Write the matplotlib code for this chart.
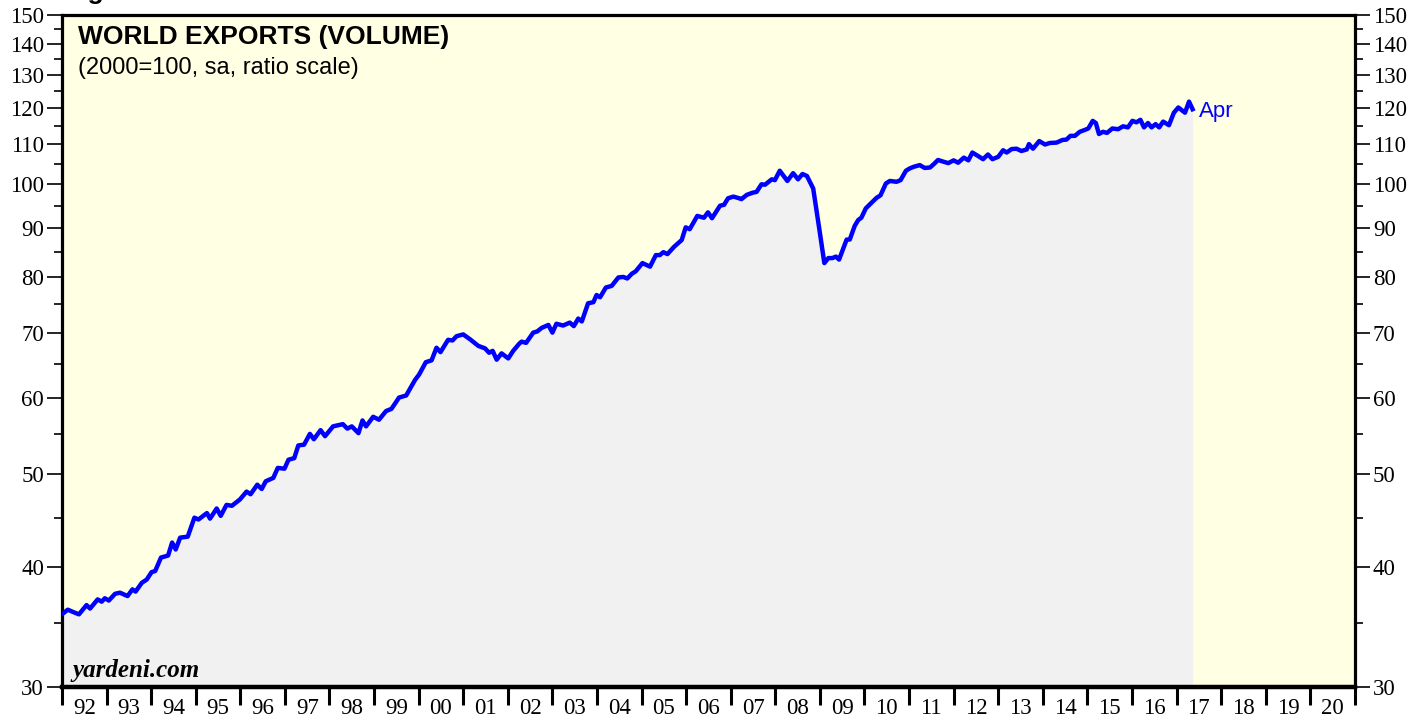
import matplotlib.pyplot as plt
import matplotlib.ticker as mticker
import numpy as np

# world exports volume, 2000=100 (decimal year, index)
years = [
    1992.03, 1992.13, 1992.25, 1992.38, 1992.55, 1992.63, 1992.80, 1992.89, 1992.96,
    1993.05, 1993.19, 1993.30, 1993.47, 1993.58, 1993.65, 1993.79, 1993.90,
    1994.01, 1994.09, 1994.22, 1994.38, 1994.47, 1994.55, 1994.65, 1994.82, 1994.97,
    1995.06, 1995.25, 1995.32, 1995.47, 1995.56, 1995.69, 1995.81, 1995.99,
    1996.14, 1996.23, 1996.38, 1996.48, 1996.57, 1996.74, 1996.84, 1996.99,
    1997.08, 1997.21, 1997.30, 1997.43, 1997.56, 1997.65, 1997.80, 1997.90,
    1998.08, 1998.30, 1998.40, 1998.50, 1998.65, 1998.74, 1998.82, 1998.98,
    1999.11, 1999.27, 1999.39, 1999.56, 1999.72, 1999.92,
    2000.01, 2000.16, 2000.29, 2000.40, 2000.49, 2000.66, 2000.76, 2000.85,
    2001.00, 2001.15, 2001.34, 2001.49, 2001.58, 2001.66, 2001.75, 2001.86,
    2002.01, 2002.12, 2002.26, 2002.31, 2002.41, 2002.57, 2002.66, 2002.76, 2002.91,
    2003.00, 2003.09, 2003.24, 2003.39, 2003.48, 2003.58, 2003.66, 2003.80, 2003.92, 2003.99,
    2004.07, 2004.20, 2004.33, 2004.48, 2004.59, 2004.68, 2004.78, 2004.87,
    2005.02, 2005.19, 2005.32, 2005.41, 2005.49, 2005.58, 2005.73, 2005.90, 2005.99,
    2006.08, 2006.25, 2006.40, 2006.49, 2006.58, 2006.76, 2006.85, 2006.94,
    2007.06, 2007.19, 2007.24, 2007.36, 2007.49, 2007.58, 2007.69, 2007.77, 2007.92, 2007.99,
    2008.10, 2008.27, 2008.40, 2008.51, 2008.61, 2008.71, 2008.85, 2008.98,
    2009.10, 2009.19, 2009.28, 2009.36, 2009.43, 2009.60, 2009.67, 2009.78, 2009.86, 2009.93,
    2010.03, 2010.16, 2010.27, 2010.36, 2010.48, 2010.57, 2010.72, 2010.81, 2010.93,
    2011.02, 2011.11, 2011.24, 2011.35, 2011.47, 2011.56, 2011.65, 2011.76, 2011.88,
    2012.00, 2012.10, 2012.23, 2012.33, 2012.42, 2012.55, 2012.66, 2012.77, 2012.87,
    2013.00, 2013.11, 2013.19, 2013.30, 2013.41, 2013.52, 2013.64, 2013.69, 2013.78, 2013.92,
    2014.05, 2014.16, 2014.31, 2014.44, 2014.53, 2014.62, 2014.72, 2014.83, 2014.94,
    2015.02, 2015.12, 2015.19, 2015.26, 2015.35, 2015.44, 2015.56, 2015.69, 2015.80, 2015.91,
    2016.01, 2016.10, 2016.19, 2016.27, 2016.36, 2016.44, 2016.53, 2016.61, 2016.70, 2016.83, 2016.94,
    2017.04, 2017.19, 2017.28, 2017.36,
]
exports = [
    35.8, 36.1, 35.9, 35.7, 36.5, 36.2, 37.0, 36.8, 37.1,
    36.9, 37.5, 37.6, 37.3, 37.9, 37.7, 38.5, 38.8,
    39.5, 39.6, 40.9, 41.1, 42.4, 41.7, 42.9, 43.0, 45.0,
    44.8, 45.5, 44.9, 46.0, 45.2, 46.4, 46.3, 47.0,
    47.9, 47.6, 48.7, 48.2, 49.1, 49.5, 50.7, 50.6,
    51.7, 51.9, 53.5, 53.6, 55.0, 54.3, 55.5, 54.7,
    56.0, 56.3, 55.7, 56.0, 55.1, 56.8, 56.0, 57.3,
    56.9, 58.1, 58.4, 60.0, 60.3, 62.6,
    63.4, 65.3, 65.6, 67.6, 66.9, 68.9, 68.8, 69.5,
    69.8, 69.0, 67.9, 67.5, 66.8, 67.1, 65.7, 66.7,
    65.9, 67.1, 68.3, 68.6, 68.4, 70.1, 70.3, 70.9, 71.4,
    70.1, 71.6, 71.3, 71.8, 71.2, 72.5, 72.0, 75.2, 75.4, 76.7,
    76.3, 78.1, 78.4, 80.0, 80.1, 79.8, 80.7, 81.2,
    82.8, 82.1, 84.4, 84.4, 85.0, 84.6, 86.1, 87.5, 90.2,
    89.8, 92.7, 92.3, 93.5, 92.2, 95.0, 95.2, 96.7,
    97.1, 96.7, 96.5, 97.5, 98.0, 98.2, 100.0, 99.9, 101.2, 101.0,
    103.3, 100.8, 102.7, 101.2, 102.5, 102.0, 99.0, 90.3,
    82.8, 83.8, 83.8, 84.1, 83.5, 87.6, 87.6, 90.5, 91.8, 92.3,
    94.4, 95.7, 96.8, 97.4, 100.2, 100.8, 100.6, 101.0, 103.3,
    103.9, 104.3, 104.7, 104.0, 104.1, 105.0, 106.0, 105.6, 105.2,
    105.9, 105.3, 106.6, 105.9, 107.9, 107.0, 106.2, 107.4, 106.2,
    106.8, 108.5, 107.9, 108.8, 108.9, 108.3, 108.7, 110.1, 108.9, 110.9,
    110.0, 110.4, 110.5, 111.2, 111.3, 112.3, 112.3, 113.4, 113.9,
    114.3, 116.4, 115.8, 112.8, 113.4, 113.1, 114.3, 114.1, 114.9, 114.6,
    116.4, 116.0, 116.7, 114.6, 115.8, 114.6, 115.5, 114.6, 116.2, 115.2, 118.7,
    120.2, 118.7, 121.9, 119.7,
]

year_labels = ['92', '93', '94', '95', '96', '97', '98', '99', '00', '01',
               '02', '03', '04', '05', '06', '07', '08', '09', '10', '11',
               '12', '13', '14', '15', '16', '17', '18', '19', '20']
major_y = [30, 40, 50, 60, 70, 80, 90, 100, 110, 120, 130, 140, 150]
minor_y = [35, 45, 55, 65, 75, 85, 95, 105, 115, 125, 135, 145]

serif = 'Liberation Serif'
sans = 'Liberation Sans'

fig = plt.figure(figsize=(14.27, 7.21), dpi=100)
ax = fig.add_axes([0.04345, 0.0472, 0.9060, 0.9320])
ax.set_facecolor('#ffffe3')

ax.fill_between(years, exports, 30, color='#f1f1f2', lw=0, zorder=1)
ax.plot(years, exports, color='#0000ff', lw=3.2, solid_joinstyle='round', zorder=3)
ax.text(years[-1] + 0.15, exports[-1] * 0.995, 'Apr', color='#0000ff', fontsize=16,
        family=sans, va='center', ha='left')

ax.set_yscale('log')
ax.set_ylim(30, 150)
ax.set_xlim(1992, 2021)

ax.yaxis.set_major_locator(mticker.FixedLocator(major_y))
ax.yaxis.set_major_formatter(mticker.FixedFormatter([str(v) for v in major_y]))
ax.yaxis.set_minor_locator(mticker.FixedLocator(minor_y))
ax.yaxis.set_minor_formatter(mticker.NullFormatter())
ax.tick_params(axis='y', which='major', direction='out', length=11, width=1.2,
               left=True, right=True, labelleft=True, labelright=True,
               labelsize=16.5, pad=2)
ax.tick_params(axis='y', which='minor', direction='out', length=5.5, width=1.2,
               left=True, right=True)
for lab in ax.get_yticklabels():
    lab.set_family(serif)

# year boundaries as ticks, labels centred in each year
ax.xaxis.set_major_locator(mticker.FixedLocator(np.arange(1992, 2022)))
ax.xaxis.set_major_formatter(mticker.NullFormatter())
ax.xaxis.set_minor_locator(mticker.FixedLocator(np.arange(1992, 2021) + 0.5))
ax.xaxis.set_minor_formatter(mticker.FixedFormatter(year_labels))
ax.tick_params(axis='x', which='major', direction='out', length=13, width=2.2)
ax.tick_params(axis='x', which='minor', length=0, labelsize=16.5, pad=8)
for lab in ax.get_xticklabels(minor=True):
    lab.set_family(serif)

for side in ['left', 'right', 'top']:
    ax.spines[side].set_linewidth(2.3)
ax.spines['bottom'].set_linewidth(3.2)

ax.text(0.012, 0.985, 'WORLD EXPORTS (VOLUME)', transform=ax.transAxes,
        fontsize=19, weight='bold', family=sans, va='top', ha='left')
ax.text(0.012, 0.938, '(2000=100, sa, ratio scale)', transform=ax.transAxes,
        fontsize=17, family=sans, va='top', ha='left')
ax.text(0.008, 0.008, 'yardeni.com', transform=ax.transAxes, fontsize=18,
        weight='bold', style='italic', family=serif, va='bottom', ha='left')

# cut-off figure heading at the very top edge
fig.text(0.045, 1.0 + 1.0 / 721, 'Figure', fontsize=19, weight='bold',
         family=sans, va='baseline', ha='left')

fig.savefig('out.png', dpi=100, facecolor='white')
